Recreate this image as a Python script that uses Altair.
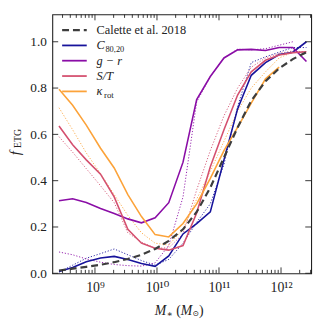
import altair as alt
import pandas as pd

# ---- data ----
log_mass = [8.42, 8.64, 8.86, 9.09, 9.31, 9.53, 9.75, 9.97, 10.19, 10.42,
            10.64, 10.86, 11.08, 11.30, 11.52, 11.75, 11.97, 12.19, 12.41]

calette = [0.012, 0.020, 0.028, 0.037, 0.048, 0.062, 0.080, 0.105, 0.140, 0.190,
           0.265, 0.370, 0.500, 0.630, 0.745, 0.830, 0.885, 0.925, 0.955]

c8020_solid = [0.008, 0.025, 0.050, 0.066, 0.073, 0.060, 0.042, 0.030, 0.075, 0.170,
               0.215, 0.265, 0.490, 0.710, 0.855, 0.910, 0.945, 0.955, 1.000]
c8020_dot = [0.005, 0.035, 0.065, 0.085, 0.105, 0.080, 0.055, 0.035, 0.060, 0.130,
             0.220, 0.300, 0.470, 0.720, 0.910, 0.935, 0.955, 0.975, 0.975]

gr_solid = [0.313, 0.322, 0.306, 0.280, 0.258, 0.235, 0.218, 0.240, 0.305, 0.480,
            0.750, 0.850, 0.930, 0.965, 0.967, 0.962, 0.975, 0.975, 0.915]
gr_dot = [0.092, 0.080, 0.062, 0.048, 0.038, 0.033, 0.031, 0.045, 0.120, 0.330,
          0.740, 0.850, 0.930, 0.968, 0.965, 0.970, 0.985, 1.000]

st_solid = [0.636, 0.555, 0.490, 0.428, 0.330, 0.190, 0.130, 0.108, 0.100, 0.120,
            0.260, 0.460, 0.620, 0.770, 0.870, 0.920, 0.943, 0.953, 0.957]
st_dot = [0.590, 0.523, 0.452, 0.378, 0.305, 0.175, 0.135, 0.108, 0.110, 0.170,
          0.360, 0.530, 0.680, 0.800, 0.890, 0.930, 0.950, 0.960, 0.955]

krot_solid = [0.795, 0.726, 0.640, 0.540, 0.455, 0.340, 0.245, 0.167, 0.157, 0.215,
              0.300, 0.410, 0.530, 0.630, 0.735, 0.840, 0.890]
krot_dot = [0.715, 0.620, 0.520, 0.430, 0.340, 0.250, 0.175, 0.130, 0.122, 0.190,
            0.320, 0.440, 0.570, 0.700, 0.800, 0.870, 0.930, 0.955]

series_names = ["C8020", "gr", "ST", "krot"]
series_colors = ["#17139b", "#8a0da6", "#d4506f", "#fca33a"]

x_major = [1e9, 1e10, 1e11, 1e12]
x_minor = [m * 10 ** e for e in range(8, 13) for m in range(2, 10)
           if 10 ** 8.312 < m * 10 ** e < 10 ** 12.486]
y_major = [0.0, 0.2, 0.4, 0.6, 0.8, 1.0]

# ---- tables ----
def rows(vals, name, style):
    return [dict(mass=10 ** lm, f=v, series=name, style=style)
            for lm, v in zip(log_mass, vals)]

solid = pd.DataFrame(rows(c8020_solid, "C8020", "solid") + rows(gr_solid, "gr", "solid")
                     + rows(st_solid, "ST", "solid") + rows(krot_solid, "krot", "solid"))
dotted = pd.DataFrame(rows(c8020_dot, "C8020", "dot") + rows(gr_dot, "gr", "dot")
                      + rows(st_dot, "ST", "dot") + rows(krot_dot, "krot", "dot"))
dashed = pd.DataFrame(rows(calette, "Calette", "dash"))

W, H = 263, 263
FONT = "'Liberation Serif', 'DejaVu Serif', serif"
TXT = "#222222"

xscale = alt.Scale(type="log", domain=[10 ** 8.312, 10 ** 12.486], nice=False)
yscale = alt.Scale(domain=[0, 1.118], nice=False, zero=False)
cscale = alt.Scale(domain=series_names, range=series_colors)

label_expr = ("datum.value == 1e9 ? '10⁹' : datum.value == 1e10 ? '10¹⁰' : "
              "datum.value == 1e11 ? '10¹¹' : '10¹²'")
xaxis = alt.Axis(values=x_major, labelExpr=label_expr, ticks=False, domain=False,
                 grid=False, title=None, labelFont=FONT, labelFontSize=14,
                 labelColor=TXT, labelPadding=8, labelFlush=False)
yaxis = alt.Axis(values=y_major, format=".1f", ticks=False, domain=False, grid=False,
                 title=None, labelFont=FONT, labelFontSize=13.5, labelColor=TXT,
                 labelPadding=6, labelFlush=False)

X = alt.X("mass:Q", scale=xscale, axis=xaxis)
Y = alt.Y("f:Q", scale=yscale, axis=yaxis)

dot_layer = alt.Chart(dotted).mark_line(strokeWidth=1.0, strokeDash=[1.2, 1.8],
                                         opacity=0.9, clip=True).encode(
    x=X, y=Y, color=alt.Color("series:N", scale=cscale, legend=None),
    detail="series:N")
solid_layer = alt.Chart(solid).mark_line(strokeWidth=1.6, clip=True).encode(
    x=X, y=Y, color=alt.Color("series:N", scale=cscale, legend=None),
    detail="series:N")
dash_layer = alt.Chart(dashed).mark_line(strokeWidth=2.2, strokeDash=[7, 4],
                                          color="#3d3d3d", clip=True).encode(x=X, y=Y)

# ---- inward ticks ----
xt_major = pd.DataFrame({"mass": x_major})
xt_minor = pd.DataFrame({"mass": x_minor})
yt_major = pd.DataFrame({"f": y_major})
tick_layers = []
for dfx, L in [(xt_major, 6), (xt_minor, 3.5)]:
    tick_layers.append(alt.Chart(dfx).mark_rule(color=TXT, strokeWidth=0.9).encode(
        x=X, y=alt.value(H), y2=alt.value(H - L)))
    tick_layers.append(alt.Chart(dfx).mark_rule(color=TXT, strokeWidth=0.9).encode(
        x=X, y=alt.value(0), y2=alt.value(L)))
tick_layers.append(alt.Chart(yt_major).mark_rule(color=TXT, strokeWidth=0.9).encode(
    y=Y, x=alt.value(0), x2=alt.value(6)))
tick_layers.append(alt.Chart(yt_major).mark_rule(color=TXT, strokeWidth=0.9).encode(
    y=Y, x=alt.value(W - 6), x2=alt.value(W)))

one = pd.DataFrame({"k": [0]})

def txt(s, x, y, size=12.5, style="normal", angle=0, align="left", baseline="middle"):
    return alt.Chart(one).mark_text(font=FONT, fontSize=size, fontStyle=style,
                                    angle=angle, align=align, baseline=baseline,
                                    color=TXT).encode(
        x=alt.value(x), y=alt.value(y), text=alt.value(s))

def leg_line(y, color, width=1.8, dash=None):
    kw = dict(color=color, strokeWidth=width)
    if dash:
        kw["strokeDash"] = dash
    return alt.Chart(one).mark_rule(**kw).encode(
        x=alt.value(10), x2=alt.value(35), y=alt.value(y))

# ---- legend ----
ly = [16, 31.5, 47, 62.6, 78.2]
legend_layers = [
    leg_line(ly[0], "#3d3d3d", 2.2, [7, 4]),
    leg_line(ly[1], series_colors[0]),
    leg_line(ly[2], series_colors[1]),
    leg_line(ly[3], series_colors[2]),
    leg_line(ly[4], series_colors[3]),
    txt("Calette et al. 2018", 45, ly[0]),
    txt("C", 45, ly[1], style="italic"),
    txt("80,20", 54, ly[1] + 3.5, size=8.5),
    txt("g − r", 45, ly[2], style="italic"),
    txt("S/T", 45, ly[3], style="italic"),
    txt("κ", 45, ly[4], style="italic"),
    txt("rot", 52.5, ly[4] + 3.5, size=9),
]

# ---- axis titles ----
title_layers = [
    txt("f", -38, 141, size=15, style="italic", angle=270, align="center"),
    txt("ETG", -35, 126, size=10, angle=270, align="center"),
    txt("M", 104, 301, size=14, style="italic"),
    txt("∗", 116, 304, size=9),
    txt("(", 126, 301, size=14),
    txt("M", 130.5, 301, size=14, style="italic"),
    txt("⊙", 142.5, 304.5, size=8),
    txt(")", 149, 301, size=14),
]

chart = alt.layer(
    dot_layer, solid_layer, dash_layer, *tick_layers, *legend_layers, *title_layers
).properties(
    width=W, height=H,
    autosize=alt.AutoSizeParams(type="none"),
    padding={"left": 45, "top": 4, "right": 10, "bottom": 50},
).configure_view(stroke="#222222", strokeWidth=1.1)

chart.save("out.html", embed_options={"renderer": "svg", "actions": False})
